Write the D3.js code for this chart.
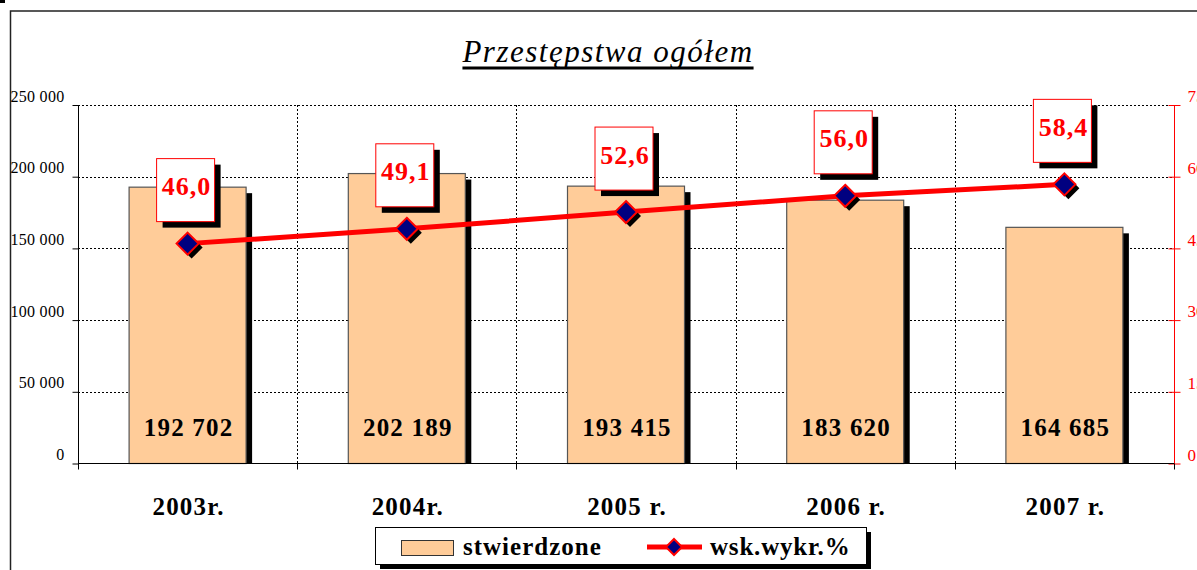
<!DOCTYPE html>
<html>
<head>
<meta charset="utf-8">
<script src="https://cdn.jsdelivr.net/npm/d3@7"></script>
<style>
body { margin: 0; background: #fff; }
text { font-family: "Liberation Serif", "DejaVu Serif", serif; }
</style>
</head>
<body>
<script>
var g_width = 1197
var g_height = 570

// data
var years = ["2003r.", "2004r.", "2005 r.", "2006 r.", "2007 r."]
var stwierdzone = [192702, 202189, 193415, 183620, 164685]
var wskWykr = [46.0, 49.1, 52.6, 56.0, 58.4]
var leftTicks = [0, 50000, 100000, 150000, 200000, 250000]
var rightTicks = [0, 15, 30, 45, 60, 75]

var plot = { left: 78, right: 1174, top: 105, bottom: 463.5 }

var svg = d3.select("body")
    .append("svg")
    .attr("width", g_width)
    .attr("height", g_height)
    .style("background-color", "white");

// chart frame
svg.append("rect")
    .attr("x", 10.5).attr("y", 11)
    .attr("width", 1300).attr("height", 700)
    .attr("fill", "none")
    .attr("stroke", "#222")
    .attr("stroke-width", 1.5);
svg.append("rect").attr("x", 0).attr("y", 0).attr("width", 5).attr("height", 3).attr("fill", "#000");

var xScale = d3.scaleBand().domain(years).range([plot.left, plot.right]).paddingInner(0).paddingOuter(0);
var yScale = d3.scaleLinear().domain([0, 250000]).range([plot.bottom, plot.top]);
var y2Scale = d3.scaleLinear().domain([0, 75]).range([plot.bottom, plot.top]);

var fmt = function(v) { return d3.format(",")(v).replace(/,/g, " ") }
var fmt1 = function(v) { return v.toFixed(1).replace(".", ",") }

// horizontal grid
svg.append("g").selectAll("line")
    .data(leftTicks.slice(1))
    .join("line")
    .attr("x1", plot.left).attr("x2", plot.right)
    .attr("y1", function(d) { return Math.round(yScale(d)) + 0.5 })
    .attr("y2", function(d) { return Math.round(yScale(d)) + 0.5 })
    .attr("stroke", "#000")
    .attr("stroke-width", 1)
    .attr("stroke-dasharray", "2,2");

// vertical grid at category boundaries
svg.append("g").selectAll("line")
    .data(years.slice(1))
    .join("line")
    .attr("x1", function(d) { return Math.round(xScale(d)) + 0.5 })
    .attr("x2", function(d) { return Math.round(xScale(d)) + 0.5 })
    .attr("y1", plot.top).attr("y2", plot.bottom)
    .attr("stroke", "#000")
    .attr("stroke-width", 1)
    .attr("stroke-dasharray", "2,2");

// left axis
var yAxis = d3.axisLeft(yScale).tickValues(leftTicks).tickFormat(fmt).tickSize(6).tickPadding(8);
var yAxisPlot = svg.append("g")
    .attr("transform", "translate(" + (plot.left + 0.5) + ",0)")
    .call(yAxis);
yAxisPlot.select(".domain").attr("d", "M0," + plot.top + "V" + (plot.bottom + 5));
yAxisPlot.selectAll("text")
    .style("font-family", "'Liberation Serif', serif")
    .style("font-size", "16px")
    .style("letter-spacing", "0.3px")
    .attr("dy", "-0.25em");

// right axis
var y2Axis = d3.axisRight(y2Scale).tickValues(rightTicks).tickSize(6).tickPadding(7);
var y2AxisPlot = svg.append("g")
    .attr("transform", "translate(" + (plot.right + 0.5) + ",0)")
    .call(y2Axis);
y2AxisPlot.select(".domain").attr("d", "M0," + plot.top + "V" + (plot.bottom + 5)).attr("stroke", "red");
y2AxisPlot.selectAll(".tick line").attr("stroke", "red").attr("x1", -6);
y2AxisPlot.selectAll("text")
    .attr("fill", "red")
    .style("font-family", "'Liberation Serif', serif")
    .style("font-size", "17px")
    .attr("dy", "-0.2em");

// bars: shadow then bar
var barW = 117
var shadow = 6
svg.append("g").selectAll("rect")
    .data(stwierdzone)
    .join("rect")
    .attr("x", function(d, i) { return xScale(years[i]) + xScale.bandwidth() / 2 - barW / 2 + shadow })
    .attr("y", function(d) { return yScale(d) + shadow })
    .attr("width", barW)
    .attr("height", function(d) { return plot.bottom - yScale(d) - shadow })
    .attr("fill", "#000");

svg.append("g").selectAll("rect")
    .data(stwierdzone)
    .join("rect")
    .attr("x", function(d, i) { return xScale(years[i]) + xScale.bandwidth() / 2 - barW / 2 })
    .attr("y", function(d) { return yScale(d) })
    .attr("width", barW)
    .attr("height", function(d) { return plot.bottom - yScale(d) })
    .attr("fill", "#FFCC99")
    .attr("stroke", "#555")
    .attr("stroke-width", 1.2);

// x axis line
svg.append("line")
    .attr("x1", plot.left).attr("x2", plot.right)
    .attr("y1", plot.bottom).attr("y2", plot.bottom)
    .attr("stroke", "#000").attr("stroke-width", 1.2);
svg.append("g").selectAll("line")
    .data(years.concat(["end"]))
    .join("line")
    .attr("x1", function(d, i) { return Math.round(plot.left + i * xScale.bandwidth()) + 0.5 })
    .attr("x2", function(d, i) { return Math.round(plot.left + i * xScale.bandwidth()) + 0.5 })
    .attr("y1", plot.bottom).attr("y2", plot.bottom + 6)
    .attr("stroke", "#000");

// bar value labels
svg.append("g").selectAll("text")
    .data(stwierdzone)
    .join("text")
    .attr("x", function(d, i) { return xScale(years[i]) + xScale.bandwidth() / 2 + 1 })
    .attr("y", 436)
    .attr("text-anchor", "middle")
    .style("font-size", "25px")
    .style("font-weight", "bold")
    .style("letter-spacing", "1.2px")
    .text(fmt);

// category labels
svg.append("g").selectAll("text")
    .data(years)
    .join("text")
    .attr("x", function(d) { return xScale(d) + xScale.bandwidth() / 2 + 1 })
    .attr("y", 515)
    .attr("text-anchor", "middle")
    .style("font-size", "25px")
    .style("font-weight", "bold")
    .style("letter-spacing", "1.2px")
    .text(function(d) { return d });

// line series
var line = d3.line()
    .x(function(d, i) { return xScale(years[i]) + xScale.bandwidth() / 2 })
    .y(function(d) { return y2Scale(d) });

svg.append("path")
    .datum(wskWykr)
    .attr("d", line)
    .attr("fill", "none")
    .attr("stroke", "red")
    .attr("stroke-width", 5);

function diamond(g, cx, cy, r) {
    var pts = [[cx, cy - r], [cx + r, cy], [cx, cy + r], [cx - r, cy]];
    g.append("polygon").attr("points", pts.map(function(p) { return [p[0] + 4, p[1] + 4].join(",") }).join(" ")).attr("fill", "#000");
    g.append("polygon").attr("points", pts.map(function(p) { return p.join(",") }).join(" "))
        .attr("fill", "#000080").attr("stroke", "red").attr("stroke-width", 2);
}

var markers = svg.append("g");
wskWykr.forEach(function(d, i) {
    diamond(markers, xScale(years[i]) + xScale.bandwidth() / 2, y2Scale(d), 11);
});

// line data labels
var labels = svg.append("g");
wskWykr.forEach(function(d, i) {
    var cx = xScale(years[i]) + xScale.bandwidth() / 2 - 2;
    var bottom = y2Scale(d) - 22;
    var w = 58, h = 63;
    labels.append("rect")
        .attr("x", cx - w / 2 + 6).attr("y", bottom - h + 6)
        .attr("width", w).attr("height", h).attr("fill", "#000");
    labels.append("rect")
        .attr("x", cx - w / 2).attr("y", bottom - h)
        .attr("width", w).attr("height", h)
        .attr("fill", "#fff").attr("stroke", "red").attr("stroke-width", 1);
    labels.append("text")
        .attr("x", cx + 1).attr("y", bottom - h / 2 + 5)
        .attr("text-anchor", "middle")
        .attr("fill", "red")
        .style("font-size", "26px")
        .style("font-weight", "bold")
        .style("letter-spacing", "1px")
        .text(fmt1(d));
});

// title
var title = svg.append("text")
    .attr("x", 608).attr("y", 62)
    .attr("text-anchor", "middle")
    .style("font-size", "31px")
    .style("font-style", "italic")
    .style("letter-spacing", "1.5px")
    .text("Przestępstwa ogółem");
var tw = title.node().getComputedTextLength();
svg.append("line")
    .attr("x1", 608 - tw / 2).attr("x2", 608 + tw / 2)
    .attr("y1", 68).attr("y2", 68)
    .attr("stroke", "#000").attr("stroke-width", 3);

// legend
var lg = svg.append("g");
lg.append("rect").attr("x", 380).attr("y", 532).attr("width", 491).attr("height", 37).attr("fill", "#000");
lg.append("rect").attr("x", 375.5).attr("y", 527.5).attr("width", 491).attr("height", 37)
    .attr("fill", "#fff").attr("stroke", "#000");
lg.append("rect").attr("x", 401.5).attr("y", 540.5).attr("width", 52).attr("height", 15)
    .attr("fill", "#FFCC99").attr("stroke", "#333");
lg.append("text").attr("x", 463).attr("y", 555).style("font-size", "25px").style("font-weight", "bold").style("letter-spacing", "1px").text("stwierdzone");
lg.append("line").attr("x1", 647).attr("x2", 702).attr("y1", 547).attr("y2", 547).attr("stroke", "red").attr("stroke-width", 5);
lg.append("polygon").attr("points", "674,539 682,547 674,555 666,547").attr("fill", "#000080").attr("stroke", "red").attr("stroke-width", 2);
lg.append("text").attr("x", 710).attr("y", 555).style("font-size", "25px").style("font-weight", "bold").style("letter-spacing", "0.8px").text("wsk.wykr.%");
</script>
</body>
</html>
